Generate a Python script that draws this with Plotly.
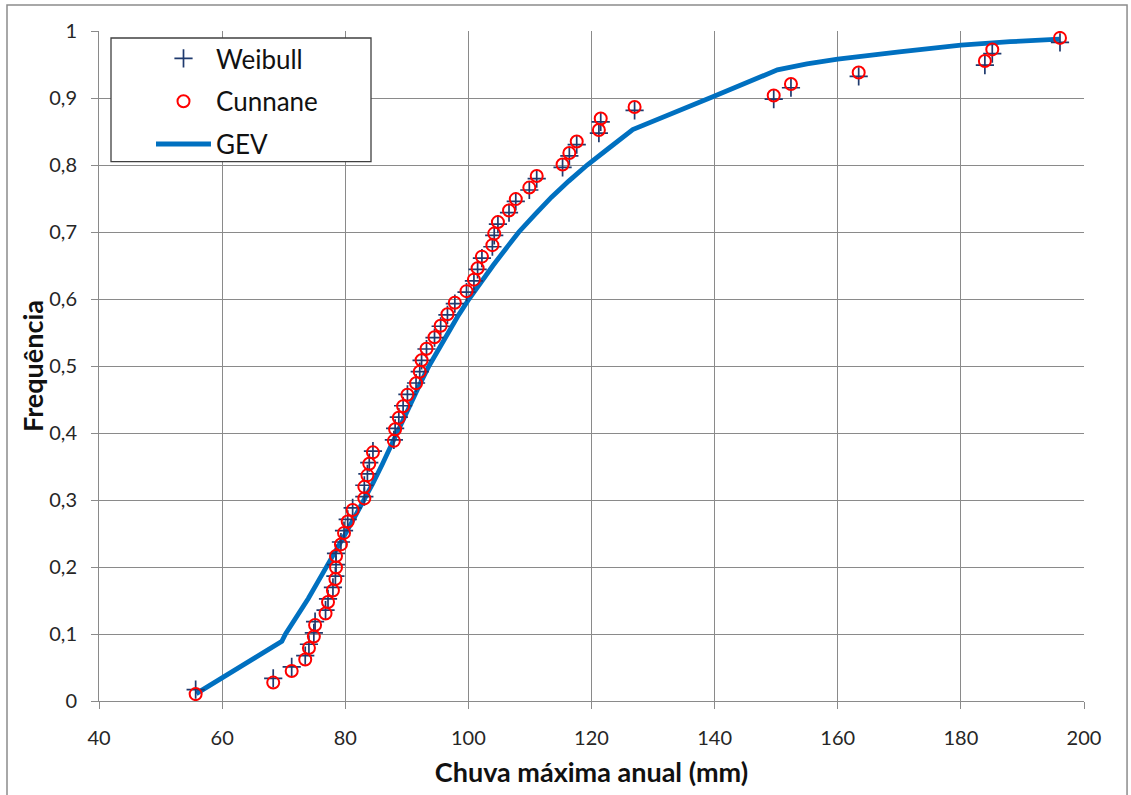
import plotly.graph_objects as go

# Observed annual maximum rainfall (mm), sorted
chuva = [55.7, 68.3, 71.3, 73.5, 74.1, 74.9, 75.1, 76.8, 77.2, 78.0,
         78.4, 78.5, 78.5, 79.3, 79.8, 80.4, 81.2, 83.1, 83.1, 83.6,
         83.9, 84.5, 87.9, 88.1, 88.7, 89.4, 90.1, 91.5, 92.1, 92.4,
         93.2, 94.5, 95.5, 96.6, 97.8, 99.7, 100.9, 101.5, 102.2, 103.9,
         104.2, 104.8, 106.6, 107.7, 109.9, 111.1, 115.3, 116.4, 117.6, 121.2,
         121.5, 127.0, 149.6, 152.4, 163.4, 183.9, 185.1, 196.1]

weibull = [0.0169, 0.0339, 0.0508, 0.0678, 0.0847, 0.1017, 0.1186, 0.1356, 0.1525, 0.1695,
           0.1864, 0.2034, 0.2203, 0.2373, 0.2542, 0.2712, 0.2881, 0.3051, 0.3220, 0.3390,
           0.3559, 0.3729, 0.3898, 0.4068, 0.4237, 0.4407, 0.4576, 0.4746, 0.4915, 0.5085,
           0.5254, 0.5424, 0.5593, 0.5763, 0.5932, 0.6102, 0.6271, 0.6441, 0.6610, 0.6780,
           0.6949, 0.7119, 0.7288, 0.7458, 0.7627, 0.7797, 0.7966, 0.8136, 0.8305, 0.8475,
           0.8644, 0.8814, 0.8983, 0.9153, 0.9322, 0.9492, 0.9661, 0.9831]

cunnane = [0.0103, 0.0275, 0.0447, 0.0619, 0.0790, 0.0962, 0.1134, 0.1306, 0.1478, 0.1649,
           0.1821, 0.1993, 0.2165, 0.2337, 0.2509, 0.2680, 0.2852, 0.3024, 0.3196, 0.3368,
           0.3540, 0.3711, 0.3883, 0.4055, 0.4227, 0.4399, 0.4570, 0.4742, 0.4914, 0.5086,
           0.5258, 0.5430, 0.5601, 0.5773, 0.5945, 0.6117, 0.6289, 0.6460, 0.6632, 0.6804,
           0.6976, 0.7148, 0.7320, 0.7491, 0.7663, 0.7835, 0.8007, 0.8179, 0.8351, 0.8522,
           0.8694, 0.8866, 0.9038, 0.9210, 0.9381, 0.9553, 0.9725, 0.9897]

# GEV curve
gev_x = [55.8, 69.7, 70.3, 72.0, 74.0, 75.5, 77.0, 78.5, 80.0, 81.5,
         83.1, 84.5, 86.0, 87.2, 88.2, 89.6, 91.0, 92.3, 93.6, 95.2,
         96.8, 98.4, 100.1, 102.0, 104.0, 106.0, 108.2, 110.8, 113.5, 116.3,
         119.3, 122.8, 126.7, 140.0, 150.2, 155.0, 160.0, 170.0, 180.0, 188.0,
         196.0]
gev_y = [0.011, 0.089, 0.100, 0.124, 0.153, 0.177, 0.200, 0.224, 0.249, 0.274,
         0.300, 0.325, 0.353, 0.377, 0.398, 0.425, 0.452, 0.476, 0.500, 0.526,
         0.551, 0.576, 0.600, 0.625, 0.650, 0.674, 0.700, 0.726, 0.752, 0.776,
         0.800, 0.825, 0.853, 0.903, 0.942, 0.951, 0.958, 0.969, 0.979, 0.984,
         0.988]

y_ticks = [0, 0.1, 0.2, 0.3, 0.4, 0.5, 0.6, 0.7, 0.8, 0.9, 1]
y_labels = ["0", "0,1", "0,2", "0,3", "0,4", "0,5", "0,6", "0,7", "0,8", "0,9", "1"]
x_ticks = [40, 60, 80, 100, 120, 140, 160, 180, 200]

FONT = "Lato"
GRID = "#8a8a8a"

fig = go.Figure()
fig.add_trace(go.Scatter(
    x=gev_x, y=gev_y, mode="lines", name="GEV",
    line=dict(color="#0070C0", width=4.8), legendrank=3, legendgroup="c"))
fig.add_trace(go.Scatter(
    x=chuva, y=weibull, mode="markers", name="Weibull",
    marker=dict(symbol="cross-thin", size=13, line=dict(color="#1F3A6E", width=1.7)),
    legendrank=1, legendgroup="a"))
fig.add_trace(go.Scatter(
    x=chuva, y=cunnane, mode="markers", name="Cunnane",
    marker=dict(symbol="circle-open", size=12, color="#FF0000", line=dict(color="#FF0000", width=2)),
    legendrank=2, legendgroup="b"))

fig.update_layout(
    width=1131, height=795,
    margin=dict(l=99, r=47, t=31, b=92),
    paper_bgcolor="white", plot_bgcolor="white",
    font=dict(family=FONT, color="#262626"),
    showlegend=True,
    legend=dict(x=(151 - 99) / 985, y=(703 - 35) / 672, xanchor="left", yanchor="top",
                bgcolor="rgba(0,0,0,0)", borderwidth=0,
                font=dict(family=FONT, size=26, color="#111111"),
                tracegroupgap=6, itemwidth=55),
    xaxis=dict(range=[40, 200], tickvals=x_ticks, ticktext=[str(v) for v in x_ticks],
               showgrid=True, gridcolor=GRID, gridwidth=1,
               showline=True, linecolor=GRID, linewidth=1, mirror=False,
               ticks="outside", ticklen=7, tickcolor=GRID,
               tickfont=dict(family=FONT, size=20, color="#262626"),
               zeroline=False, ticklabelstandoff=12,
               title=dict(text="<b>Chuva máxima anual (mm)</b>",
                          font=dict(family=FONT, size=27, color="#111111"), standoff=15)),
    yaxis=dict(range=[0, 1], tickvals=y_ticks, ticktext=y_labels,
               showgrid=True, gridcolor=GRID, gridwidth=1,
               showline=True, linecolor=GRID, linewidth=1,
               ticks="outside", ticklen=7, tickcolor=GRID,
               tickfont=dict(family=FONT, size=20, color="#262626"),
               zeroline=False, ticklabelstandoff=10),
    annotations=[dict(text="<b>Frequência</b>", xref="paper", yref="paper",
                      x=(32 - 99) / 985, y=(703 - 367) / 672, xanchor="center", yanchor="middle",
                      textangle=-90, showarrow=False,
                      font=dict(family=FONT, size=27, color="#111111"))],
    shapes=[dict(type="rect", xref="paper", yref="paper",
                 x0=-0.0934, x1=1.0437, y0=-0.16, y1=1.0387,
                 line=dict(color="#8c8c8c", width=1.5), fillcolor="rgba(0,0,0,0)",
                 layer="below"),
            dict(type="rect", xref="paper", yref="paper",
                 x0=(111 - 99) / 985, x1=(371 - 99) / 985,
                 y0=(703 - 162) / 672, y1=(703 - 38) / 672,
                 line=dict(color="#404040", width=1.3), fillcolor="white",
                 layer="above")],
)

fig.write_html("out.html")
